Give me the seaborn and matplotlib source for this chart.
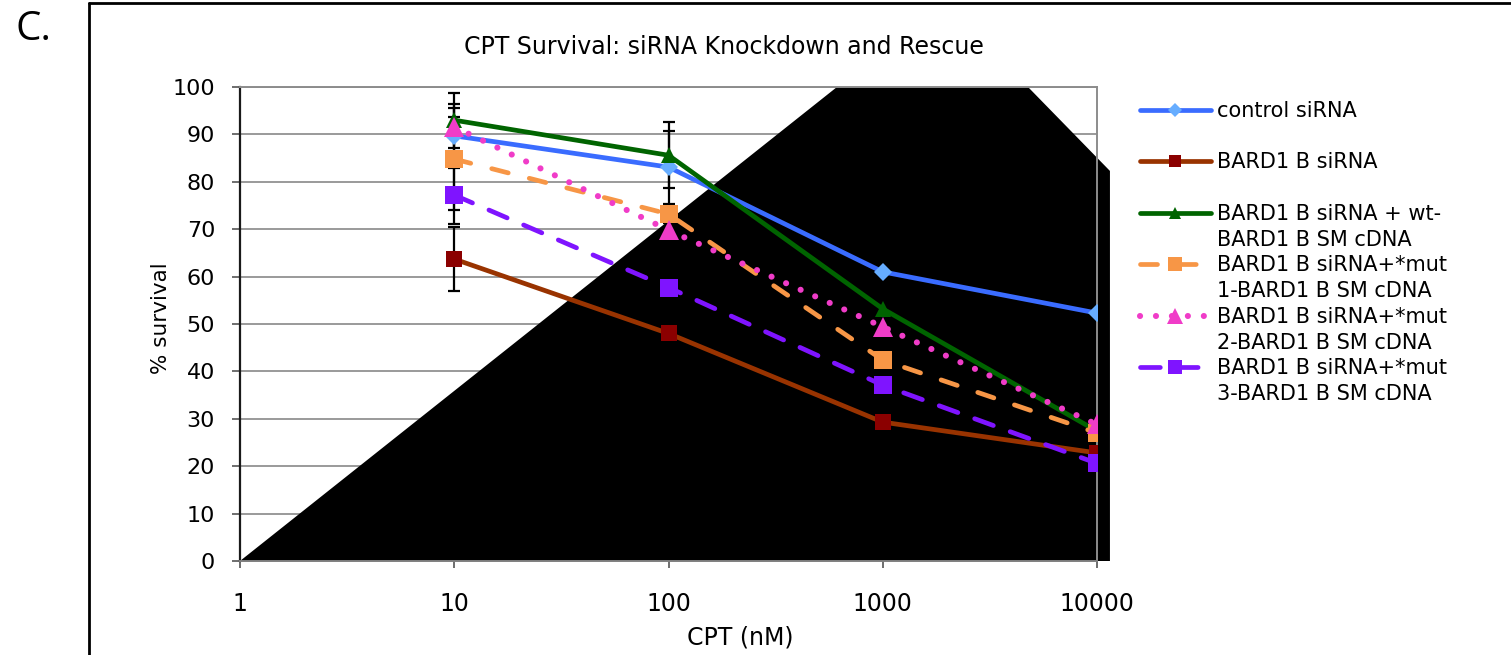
import matplotlib
matplotlib.use("Agg")
import matplotlib.pyplot as plt
from matplotlib import font_manager
from matplotlib.lines import Line2D
from matplotlib.patches import Polygon
import seaborn as sns

# ---- data -------------------------------------------------------------
concentrations = [10, 100, 1000, 10000]          # CPT (nM)
x_ticks = [1, 10, 100, 1000, 10000]
x_tick_labels = ["1", "10", "100", "1000", "10000"]
y_ticks = list(range(0, 101, 10))

control_sirna = [89.7, 83.1, 61.0, 52.3]
bard1_sirna = [63.7, 48.0, 29.3, 22.8]
wt_rescue = [93.0, 85.6, 53.2, 27.4]
mut1_rescue = [84.8, 73.2, 42.4, 27.0]
mut2_rescue = [91.6, 69.8, 49.4, 28.8]
mut3_rescue = [77.2, 57.7, 37.1, 20.6]

# standard deviations (0 = not shown)
control_err = [6.8, 7.7, 0, 0]
bard1_err = [6.8, 0, 0, 0]
wt_err = [5.8, 7.0, 0, 0]
mut1_err = [10.8, 1.5, 0, 0]
mut2_err = [2.0, 1.5, 0, 0]
mut3_err = [6.1, 1.0, 0, 0]

series_labels = [
    "control siRNA",
    "BARD1 B siRNA",
    "BARD1 B siRNA + wt-\nBARD1 B SM cDNA",
    "BARD1 B siRNA+*mut\n1-BARD1 B SM cDNA",
    "BARD1 B siRNA+*mut\n2-BARD1 B SM cDNA",
    "BARD1 B siRNA+*mut\n3-BARD1 B SM cDNA",
]
series_values = [control_sirna, bard1_sirna, wt_rescue, mut1_rescue, mut2_rescue, mut3_rescue]
series_errors = [control_err, bard1_err, wt_err, mut1_err, mut2_err, mut3_err]

# ---- styles -----------------------------------------------------------
LW = 3.4
series_styles = [
    dict(color="#3a6cff", marker="D", ms=9, mfc="#66adff", ls="-", cap="butt"),
    dict(color="#993300", marker="s", ms=11, mfc="#8b0000", ls="-", cap="butt"),
    dict(color="#006400", marker="^", ms=11, mfc="#006400", ls="-", cap="butt"),
    dict(color="#f79646", marker="s", ms=13, mfc="#f79646", ls=(0, (3.6, 4.6)), cap="round"),
    dict(color="#f03cc8", marker="^", ms=14, mfc="#f03cc8", ls=(0, (0.01, 2.6)), cap="round", lw=4.4),
    dict(color="#7f14ff", marker="s", ms=13, mfc="#7f14ff", ls=(0, (4.2, 3.8)), cap="round"),
]


def pick_font(candidates):
    available = {f.name for f in font_manager.fontManager.ttflist}
    chosen = [c for c in candidates if c in available]
    return chosen + ["DejaVu Sans"]


sns.set_theme(style="white")
plt.rcParams["font.family"] = ["DejaVu Sans"]
plt.rcParams["text.color"] = "black"
narrow = pick_font(["Liberation Sans Narrow", "DejaVu Sans Condensed"])

W, H = 1511, 655
fig = plt.figure(figsize=(W / 100, H / 100), dpi=100)
fig.patch.set_facecolor("white")

x0, x1 = 240, 1097
y0, y1 = 87, 561
ax = fig.add_axes([x0 / W, 1 - y1 / H, (x1 - x0) / W, (y1 - y0) / H])
ax.set_xscale("log")
ax.set_xlim(1, 10000)
ax.set_ylim(0, 100)
ax.set_facecolor("white")

# horizontal gridlines
ax.set_axisbelow(True)
ax.yaxis.grid(True, color="#7f7f7f", linewidth=1.1)
ax.xaxis.grid(False)

# filled backdrop shape inside the plot area
backdrop = Polygon(
    [(0.0, 0.0), (0.6966, 1.0), (0.9195, 1.0), (1.0151, 0.8229), (1.0151, 0.0)],
    closed=True, transform=ax.transAxes, facecolor="black", edgecolor="none",
    zorder=1, clip_on=False,
)
ax.add_patch(backdrop)

# error bars
for vals, errs in zip(series_values, series_errors):
    xs = [c for c, e in zip(concentrations, errs) if e > 0]
    ys = [v for v, e in zip(vals, errs) if e > 0]
    es = [e for e in errs if e > 0]
    ax.errorbar(xs, ys, yerr=es, fmt="none", ecolor="black", elinewidth=1.6,
                capsize=4.5, capthick=1.6, zorder=2)

# series lines
handles = []
for label, vals, st in zip(series_labels, series_values, series_styles):
    lw = st.get("lw", LW)
    sns.lineplot(x=concentrations, y=vals, ax=ax, color=st["color"],
                 linewidth=lw, linestyle=st["ls"], dash_capstyle=st["cap"],
                 marker=st["marker"], markersize=st["ms"],
                 markerfacecolor=st["mfc"], markeredgecolor=st["mfc"],
                 markeredgewidth=0, legend=False, zorder=3)
    handles.append(Line2D([], [], color=st["color"], linewidth=lw, linestyle=st["ls"],
                          dash_capstyle=st["cap"], marker=st["marker"],
                          markersize=st["ms"] * 0.8, markerfacecolor=st["mfc"],
                          markeredgecolor=st["mfc"], markeredgewidth=0))

# axes styling
for side in ["top", "right"]:
    ax.spines[side].set_color("#8c8c8c")
    ax.spines[side].set_linewidth(1.4)
ax.spines["left"].set_color("#1a1a1a")
ax.spines["left"].set_linewidth(1.6)
ax.spines["bottom"].set_color("#7f7f7f")
ax.spines["bottom"].set_linewidth(1.4)

ax.set_xticks(x_ticks)
ax.set_xticklabels(x_tick_labels)
ax.xaxis.set_minor_locator(matplotlib.ticker.NullLocator())
ax.set_yticks(y_ticks)
ax.tick_params(axis="y", direction="out", length=6, width=1.2, color="#555555",
               pad=12, labelsize=16, labelcolor="black", left=True)
ax.tick_params(axis="x", direction="out", length=5, width=1.2, color="#555555",
               pad=17, labelsize=17, labelcolor="black", bottom=True)
for t in ax.get_xticklabels():
    t.set_family(narrow)

ax.set_xlabel("")
ax.set_ylabel("")
fig.text(161 / W, 1 - 318 / H, "% survival", rotation=90, ha="center", va="center",
         fontsize=15.5, color="black")
fig.text(740 / W, 1 - 637 / H, "CPT (nM)", ha="center", va="center",
         fontsize=17, family=narrow, color="black")
fig.text(724 / W, 1 - 47 / H, "CPT Survival: siRNA Knockdown and Rescue",
         ha="center", va="center", fontsize=17, color="black")

# panel letter and outer frame
fig.text(15 / W, 1 - 30 / H, "C.", ha="left", va="center", fontsize=29,
         family=pick_font(["Open Sans", "Noto Sans"]), color="black")
fig.add_artist(Line2D([88.5 / W, 88.5 / W], [0, 1 - 2.5 / H], transform=fig.transFigure,
                      color="black", linewidth=2))
fig.add_artist(Line2D([88.5 / W, 1], [1 - 2.5 / H, 1 - 2.5 / H], transform=fig.transFigure,
                      color="black", linewidth=2))

# legend: each entry uses two rows; continuation lines get blank handles
blank = Line2D([], [], linestyle="none", marker=None)
leg_handles, leg_labels = [], []
for h, lab in zip(handles, series_labels):
    parts = lab.split("\n")
    leg_handles.append(h)
    leg_labels.append(parts[0])
    leg_handles.append(blank)
    leg_labels.append(parts[1] if len(parts) > 1 else " ")
fig.legend(leg_handles, leg_labels, loc="upper left",
           bbox_to_anchor=(1140 / W, 1 - 101 / H), frameon=False, fontsize=15,
           handlelength=3.4, handletextpad=0.28, labelspacing=0.275, borderpad=0,
           borderaxespad=0, labelcolor="black")

fig.savefig("out.png", dpi=100, facecolor="white")
